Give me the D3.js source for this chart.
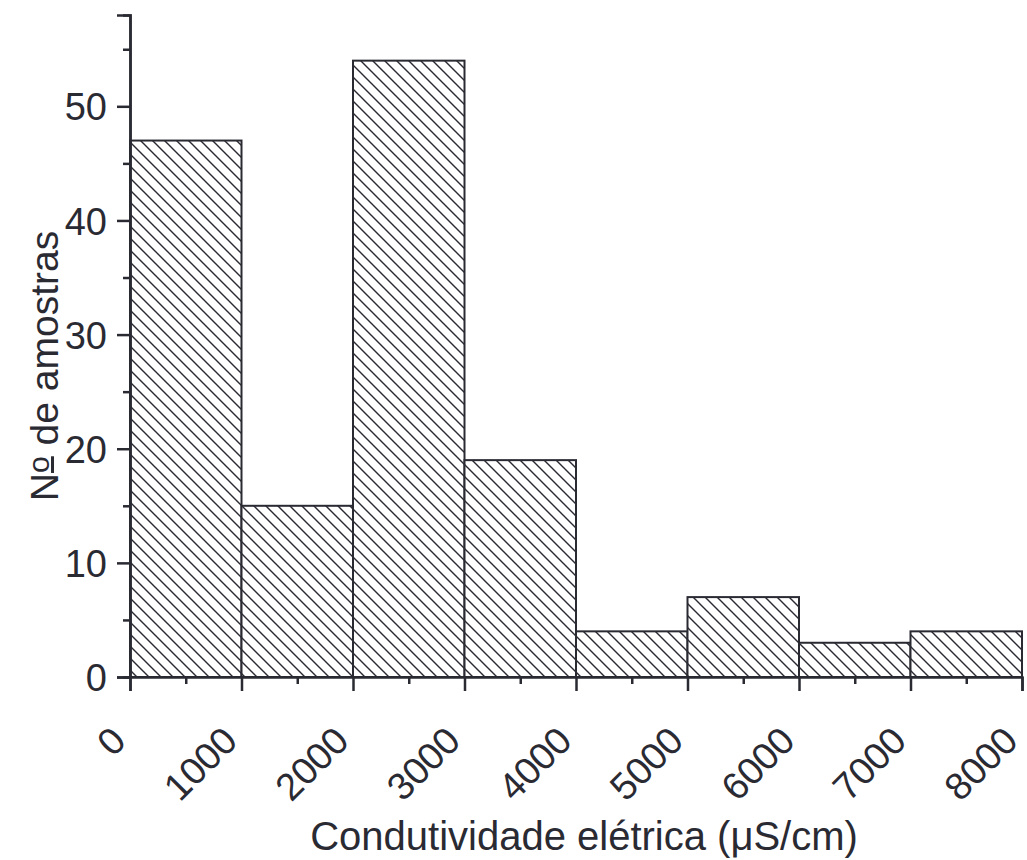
<!DOCTYPE html>
<html>
<head>
<meta charset="utf-8">
<script src="https://cdn.jsdelivr.net/npm/d3@7"></script>
<style>
  body { margin: 0; background: #fff; }
  svg text { font-family: "Liberation Sans", Arial, sans-serif; fill: #2a2a33; }
</style>
</head>
<body>
<svg id="chart" width="1027" height="860"></svg>
<script>
// histogram bins (µS/cm) and sample counts
var binStarts = [0, 1000, 2000, 3000, 4000, 5000, 6000, 7000]
var binWidth = 1000
var counts = [47, 15, 54, 19, 4, 7, 3, 4]

var xMajor = [0, 1000, 2000, 3000, 4000, 5000, 6000, 7000, 8000]
var xMinor = [500, 1500, 2500, 3500, 4500, 5500, 6500, 7500]
var yMajor = [0, 10, 20, 30, 40, 50]
var yMinor = [5, 15, 25, 35, 45, 55]

var ink = "#2a2a33"

var svg = d3.select("#chart"),
    margin = { top: 15, left: 130, bottom: 183, right: 5 },
    width = 1027, height = 860;

var x = d3.scaleLinear()
    .domain([0, 8000])
    .range([margin.left, width - margin.right])

var y = d3.scaleLinear()
    .domain([0, 58])
    .range([height - margin.bottom, margin.top])

// hatch pattern
var pat = svg.append("defs").append("pattern")
    .attr("id", "hatch")
    .attr("patternUnits", "userSpaceOnUse")
    .attr("width", 12).attr("height", 12)
pat.append("rect").attr("width", 12).attr("height", 12).attr("fill", "#fff")
pat.append("path")
    .attr("d", "M-3,-3 L15,15 M-3,9 L3,15 M9,-3 L15,3")
    .attr("stroke", ink)
    .attr("stroke-width", 1.4)

// bars
svg.selectAll("rect.bar")
    .data(binStarts.map((s, i) => ({ start: s, count: counts[i] })))
    .enter().append("rect")
    .attr("class", "bar")
    .attr("x", d => x(d.start))
    .attr("y", d => y(d.count))
    .attr("width", d => x(d.start + binWidth) - x(d.start))
    .attr("height", d => y(0) - y(d.count))
    .attr("fill", "url(#hatch)")
    .attr("stroke", ink)
    .attr("stroke-width", 2)

// x axis
svg.append("g")
    .attr("transform", `translate(0,${y(0)})`)
    .call(d3.axisBottom(x).tickValues(xMajor).tickSize(14).tickFormat(""))
svg.append("g")
    .attr("transform", `translate(0,${y(0)})`)
    .call(d3.axisBottom(x).tickValues(xMinor).tickSize(7).tickFormat(""))
    .select(".domain").remove()

svg.selectAll("text.xlab")
    .data(xMajor)
    .enter().append("text")
    .attr("class", "xlab")
    .attr("text-anchor", "end")
    .attr("font-size", 38)
    .attr("transform", d => `translate(${x(d) - 2},${y(0) + 66}) rotate(-45)`)
    .text(d => d)

// y axis
var gy = svg.append("g")
    .attr("transform", `translate(${x(0)},0)`)
    .call(d3.axisLeft(y).tickValues(yMajor).tickSize(13).tickPadding(10))
gy.selectAll("text").attr("font-size", 38).attr("font-family", null).attr("dy", "0.36em")
svg.append("g")
    .attr("transform", `translate(${x(0)},0)`)
    .call(d3.axisLeft(y).tickValues(yMinor).tickSize(7).tickFormat(""))

svg.selectAll(".domain, .tick line")
    .attr("stroke", ink)
    .attr("stroke-width", 2.5)

// axis titles
svg.append("text")
    .attr("x", (x(0) + x(8000)) / 2 + 8)
    .attr("y", 850)
    .attr("text-anchor", "middle")
    .attr("font-size", 40)
    .text("Condutividade elétrica (μS/cm)")

var yt = svg.append("text")
    .attr("transform", `translate(58,${(y(0) + y(58)) / 2 + 20}) rotate(-90)`)
    .attr("text-anchor", "middle")
    .attr("font-size", 39)
yt.append("tspan").text("N")
yt.append("tspan")
    .attr("font-size", 30)
    .attr("dy", -9)
    .attr("text-decoration", "underline")
    .text("o")
yt.append("tspan").attr("dy", 9).text(" de amostras")
</script>
</body>
</html>
